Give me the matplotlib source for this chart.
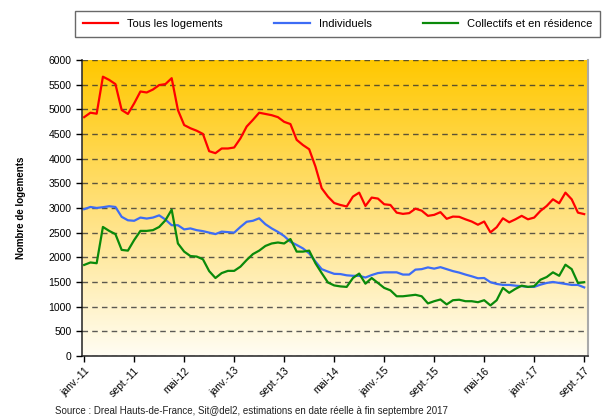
import numpy as np
import matplotlib
matplotlib.use("Agg")
import matplotlib.pyplot as plt
from matplotlib.colors import LinearSegmentedColormap

plt.rcParams['font.family'] = ['Liberation Sans', 'DejaVu Sans']

# monthly values, janv-11 .. sept-17
tous = [4840, 4930, 4910, 5660, 5595, 5510, 4985, 4905, 5120, 5360,
        5340, 5400, 5490, 5510, 5630, 4985, 4680, 4615, 4565, 4500,
        4150, 4110, 4205, 4205, 4225, 4410, 4650, 4785, 4930, 4905,
        4880, 4840, 4745, 4700, 4380, 4275, 4190, 3840, 3400, 3230,
        3100, 3060, 3030, 3230, 3310, 3040, 3210, 3190, 3075, 3060,
        2905, 2880, 2895, 2985, 2945, 2840, 2860, 2915, 2780, 2825,
        2820, 2770, 2725, 2660, 2725, 2505, 2610, 2790, 2710, 2770,
        2840, 2770, 2805, 2940, 3040, 3175, 3095, 3310, 3175, 2905,
        2875]
individuels = [2975, 3020, 3000, 3015, 3035, 3020, 2820, 2750, 2740, 2805,
               2785, 2805, 2850, 2765, 2650, 2650, 2565, 2585, 2550, 2530,
               2500, 2470, 2520, 2510, 2500, 2615, 2720, 2740, 2790, 2670,
               2585, 2515, 2430, 2315, 2250, 2180, 2080, 1915, 1760, 1710,
               1665, 1660, 1635, 1625, 1625, 1590, 1640, 1680, 1695, 1695,
               1695, 1650, 1650, 1750, 1760, 1795, 1770, 1800, 1760, 1720,
               1690, 1650, 1615, 1575, 1580, 1495, 1460, 1440, 1440, 1425,
               1415, 1400, 1400, 1445, 1480, 1500, 1480, 1460, 1440, 1440,
               1390]
collectifs = [1845, 1895, 1880, 2615, 2535, 2470, 2150, 2135, 2350, 2535,
              2535, 2550, 2615, 2750, 2965, 2280, 2115, 2025, 2015, 1960,
              1720, 1580, 1680, 1725, 1725, 1810, 1945, 2065, 2135, 2230,
              2280, 2300, 2280, 2370, 2115, 2115, 2135, 1880, 1680, 1490,
              1430, 1410, 1400, 1580, 1670, 1465, 1580, 1480, 1380, 1330,
              1210, 1210, 1225, 1240, 1210, 1065, 1110, 1145, 1045, 1130,
              1140, 1110, 1110, 1090, 1130, 1025, 1130, 1380, 1280, 1360,
              1425, 1400, 1415, 1545, 1600, 1695, 1625, 1850, 1760, 1480,
              1495]
tick_labels = ["janv.-11", "sept.-11", "mai-12", "janv.-13", "sept.-13",
               "mai-14", "janv.-15", "sept.-15", "mai-16", "janv.-17", "sept.-17"]

x = np.arange(len(tous))

fig = plt.figure(figsize=(6.15, 4.19), dpi=100)
ax = fig.add_axes([0.1333, 0.1504, 0.8227, 0.7066])

xmin, xmax = -0.35, 80.6
# background gradient
cmap = LinearSegmentedColormap.from_list("bg", ["#FFFDF3", "#FFE07A", "#FFC800"])
grad = np.linspace(0, 1, 256).reshape(-1, 1)
ax.imshow(grad, aspect="auto", cmap=cmap, origin="lower",
          extent=[xmin, xmax, 0, 6000], zorder=0)

ax.plot(x, tous, color="#FF0000", lw=1.6, label="Tous les logements", zorder=3)
ax.plot(x, individuels, color="#3D6CF5", lw=1.6, label="Individuels", zorder=3)
ax.plot(x, collectifs, color="#0A8A0A", lw=1.6, label="Collectifs et en résidence", zorder=3)

ax.set_xlim(xmin, xmax)
ax.set_ylim(0, 6000)
ax.set_yticks(np.arange(0, 6001, 500))
ax.yaxis.grid(True, color="#333333", ls=(0, (4, 3)), lw=1.0, alpha=0.8)
ax.set_axisbelow(False)
ax.set_xticks(np.arange(0, 81, 8))
ax.set_xticklabels(tick_labels, rotation=45, ha="right", rotation_mode="anchor")
ax.tick_params(axis="both", labelsize=7.5, length=4, width=1, direction="out")
ax.tick_params(axis="x", pad=3)

for s in ["left", "bottom"]:
    ax.spines[s].set_color("#333333")
    ax.spines[s].set_linewidth(1.2)
ax.spines["top"].set_visible(False)
ax.spines["right"].set_color("#AAAAAA")
ax.spines["right"].set_linewidth(1.5)

ax.set_ylabel("Nombre de logements", fontsize=7, fontweight="bold", labelpad=16)

leg = fig.legend(loc="center", ncol=3, fontsize=8, frameon=True, fancybox=False,
                 bbox_to_anchor=(0.122, 0.905, 0.854, 0.075), mode="expand",
                 handlelength=3.2, borderaxespad=0, borderpad=0.7, columnspacing=2.5)
leg.get_frame().set_edgecolor("#444444")
leg.get_frame().set_linewidth(1.0)

fig.text(0.09, 0.012, "Source : Dreal Hauts-de-France, Sit@del2, estimations en date réelle à fin septembre 2017",
         fontsize=7, color="#222222")

fig.savefig("out.png", dpi=100)
